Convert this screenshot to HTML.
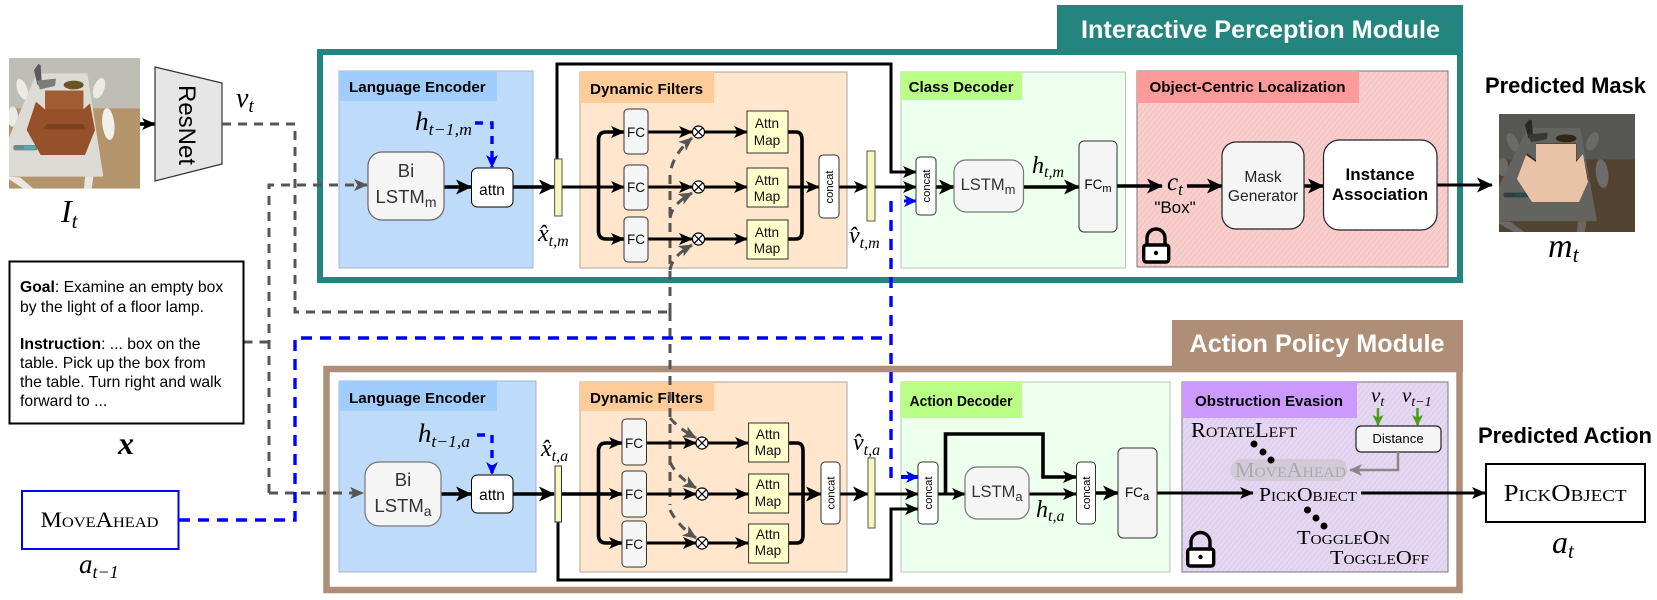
<!DOCTYPE html>
<html><head><meta charset="utf-8">
<style>
html,body{margin:0;padding:0;background:#fff;width:1657px;height:600px;overflow:hidden}
svg{display:block}
text{font-family:"Liberation Sans",sans-serif;fill:#000}
.h{font-weight:bold;font-size:15.2px}
.m{font-family:"Liberation Serif",serif;font-style:italic}
.sc{font-family:"Liberation Serif",serif;font-variant:small-caps;font-size:21px}
.t{font-size:15.7px}
.c{text-anchor:middle}
.lab{font-size:13.6px;text-anchor:middle;fill:#111}
.big{font-size:18.5px;text-anchor:middle;fill:#333}
.bl{fill:none;stroke:#000;stroke-width:3}
.bk{fill:none;stroke:#000;stroke-width:3.6}
.gd{fill:none;stroke:#555;stroke-width:3;stroke-dasharray:9 7}
.bd{fill:none;stroke:#00f;stroke-width:3.4;stroke-dasharray:11 8}
</style></head><body>
<svg xmlns="http://www.w3.org/2000/svg" width="1657" height="600" viewBox="0 0 1657 600">
<defs>
<marker id="a" markerUnits="userSpaceOnUse" markerWidth="15" markerHeight="14" refX="13" refY="6.5" orient="auto"><path d="M0,0.5 L14,6.5 L0,12.5 L3.5,6.5z" fill="#000"/></marker>
<marker id="A" markerUnits="userSpaceOnUse" markerWidth="17" markerHeight="17" refX="15" refY="8" orient="auto"><path d="M0,0.5 L16,8 L0,15.5 L4,8z" fill="#000"/></marker>
<marker id="g" markerUnits="userSpaceOnUse" markerWidth="15" markerHeight="14" refX="13" refY="6.5" orient="auto"><path d="M0,0.5 L14,6.5 L0,12.5 L3.5,6.5z" fill="#555"/></marker>
<marker id="b" markerUnits="userSpaceOnUse" markerWidth="14" markerHeight="14" refX="12" refY="6.5" orient="auto"><path d="M0,0.5 L13,6.5 L0,12.5 L3.5,6.5z" fill="#00f"/></marker>
<marker id="gr" markerUnits="userSpaceOnUse" markerWidth="12" markerHeight="12" refX="10" refY="5.5" orient="auto"><path d="M0,0 L11,5.5 L0,11 L2.5,5.5z" fill="#4d9a1f"/></marker>
<marker id="y" markerUnits="userSpaceOnUse" markerWidth="14" markerHeight="14" refX="12" refY="6.5" orient="auto"><path d="M0,0.5 L13,6.5 L0,12.5 L3.5,6.5z" fill="#888"/></marker>
<pattern id="hr" width="4" height="4" patternUnits="userSpaceOnUse" patternTransform="rotate(-50)"><rect width="4" height="4" fill="#f6c8c6"/><rect width="4" height="1" y="1" fill="#f9d6d4"/></pattern>
<pattern id="hp" width="4" height="4" patternUnits="userSpaceOnUse" patternTransform="rotate(-50)"><rect width="4" height="4" fill="#e0d1ee"/><rect width="4" height="1" y="1" fill="#e9def2"/></pattern>
<clipPath id="sc"><rect x="27" y="24" width="393" height="392"/></clipPath>
<g id="scene" clip-path="url(#sc)">
 <rect x="27" y="24" width="393" height="392" fill="#bfbeb6"/>
 <rect x="27" y="175" width="393" height="241" fill="#b3946b"/>
 <ellipse cx="38" cy="200" rx="16" ry="30" fill="#eceae5"/>
 <ellipse cx="67" cy="118" rx="15" ry="32" fill="#eceae5" transform="rotate(-20 67 118)"/>
 <ellipse cx="297" cy="115" rx="16" ry="32" fill="#eceae5" transform="rotate(20 297 115)"/>
 <path d="M27,380 L60,382 L100,416 L70,416 L27,388z M255,380 L280,380 L275,416 L252,416z" fill="#e8e6de"/>
 <path d="M110,70 L262,70 L310,380 L27,380 L27,262z" fill="#dcdbd6"/>
 <ellipse cx="325" cy="222" rx="18" ry="48" fill="#f1f0ec" transform="rotate(-6 325 222)"/>
 <path d="M102,60 L115,42 L122,45 L125,95 L112,105z" fill="#5a5a5a"/>
 <path d="M110,92 L168,86 L165,108 L120,118z" fill="#7c7c7a"/>
 <ellipse cx="221" cy="105" rx="30" ry="13" fill="#6b5526"/>
 <rect x="40" y="285" width="72" height="16" rx="6" fill="#6e8a8a"/>
 <rect x="72" y="287" width="36" height="11" fill="#58a9b3"/>
 <path d="M80,240 L108,155 L135,178 L135,122 L250,122 L250,178 L270,160 L285,240 L255,315 L122,315z" fill="#96502a"/>
 <rect x="135" y="122" width="115" height="56" fill="#a25c31"/>
 <path d="M140,222 L250,222 L255,238 L130,238z" fill="#7c4220"/>
</g>
</defs>

<!-- photo -->
<g transform="translate(9,58) scale(0.33333) translate(-27,-24)"><use href="#scene"/></g>
<path d="M140,124 L155,124" class="bk" marker-end="url(#a)"/>
<path d="M155,67 L222,83 L222,164 L155,181z" fill="#e6e6e6" stroke="#333" stroke-width="1.2"/>
<text transform="translate(179,125) rotate(90)" class="c" style="font-size:24px">ResNet</text>
<text class="m" x="236" y="107" style="font-size:28px">v<tspan dy="5" style="font-size:19px">t</tspan></text>
<text class="m" x="61" y="222" style="font-size:32px">I<tspan dy="6" style="font-size:21px">t</tspan></text>

<!-- Teal module -->
<rect x="1057" y="5" width="406" height="52" fill="#23857d"/>
<rect x="320" y="52" width="1140" height="228" fill="#fff" stroke="#23857d" stroke-width="6"/>
<text x="1081" y="38" textLength="359" lengthAdjust="spacingAndGlyphs" style="font-size:25.2px;font-weight:bold;fill:#fff">Interactive Perception Module</text>

<!-- Brown module -->
<rect x="1172" y="320" width="291" height="52" fill="#ae8e76"/>
<rect x="326.500" y="369" width="1133" height="221" fill="#fff" stroke="#ae8e76" stroke-width="6.500"/>
<text x="1189.500" y="352" textLength="255" lengthAdjust="spacingAndGlyphs" style="font-size:25.2px;font-weight:bold;fill:#fff">Action Policy Module</text>

<!-- Top: panels -->
<rect x="339" y="71" width="194" height="197" fill="#bedcfa" stroke="#9fb6cc" stroke-width="1"/>
<rect x="339" y="71" width="158" height="30" fill="#a0cdfb"/>
<text class="h" x="349" y="92">Language Encoder</text>
<rect x="580" y="72" width="267" height="196" fill="#ffe6cc" stroke="#b3a697" stroke-width="1"/>
<rect x="580" y="72" width="134" height="31" fill="#ffcc99"/>
<text class="h" x="590" y="94">Dynamic Filters</text>
<rect x="901" y="72" width="224.500" height="196" fill="#edffed" stroke="#b5c5b5" stroke-width="1"/>
<rect x="901" y="72" width="121" height="28" fill="#b9ff85"/>
<text class="h" x="908.600" y="92" textLength="105" lengthAdjust="spacingAndGlyphs">Class Decoder</text>
<rect x="1137" y="71" width="311" height="196" fill="url(#hr)" stroke="#777" stroke-width="1"/>
<rect x="1137" y="71" width="222" height="32" fill="#ff9a9a"/>
<text class="h" x="1149.500" y="92" textLength="196" lengthAdjust="spacingAndGlyphs" style="font-size:15px">Object-Centric Localization</text>

<!-- Bottom: panels -->
<rect x="339" y="381" width="197" height="191" fill="#bedcfa" stroke="#9fb6cc" stroke-width="1"/>
<rect x="339" y="381" width="158" height="30" fill="#a0cdfb"/>
<text class="h" x="349" y="403">Language Encoder</text>
<rect x="580" y="382" width="267" height="190" fill="#ffe6cc" stroke="#b3a697" stroke-width="1"/>
<rect x="580" y="382" width="134" height="29" fill="#ffcc99"/>
<text class="h" x="590" y="403">Dynamic Filters</text>
<rect x="901" y="382" width="269" height="190" fill="#edffed" stroke="#b5c5b5" stroke-width="1"/>
<rect x="901" y="382" width="121" height="36" fill="#b9ff85"/>
<text class="h" x="909.600" y="406" textLength="103" lengthAdjust="spacingAndGlyphs">Action Decoder</text>
<rect x="1182" y="382" width="266" height="190" fill="url(#hp)" stroke="#777" stroke-width="1"/>
<rect x="1182" y="382" width="175" height="36" fill="#cc99ff"/>
<text class="h" x="1195" y="406" textLength="148" lengthAdjust="spacingAndGlyphs" style="font-size:15px">Obstruction Evasion</text>

<!-- Gray dashed -->
<path class="gd" d="M222,124 L295,124 L295,312 L670,312"/>
<path class="gd" d="M243.500,342 L269,342"/>
<path class="gd" d="M269,493 L269,185 L367,185" marker-end="url(#g)"/>
<path class="gd" d="M269,493 L363,493" marker-end="url(#g)"/>
<path class="gd" d="M670,312 L670,175 Q672,155 692,138" marker-end="url(#g)"/>
<path class="gd" d="M670,218 Q672,204 692,193" marker-end="url(#g)"/>
<path class="gd" d="M670,270 Q672,256 692,245" marker-end="url(#g)"/>
<path class="gd" d="M670,312 L670,505"/>
<path class="gd" d="M670,418 Q678,428 696,438" marker-end="url(#g)"/>
<path class="gd" d="M670,462 Q676,476 696,488" marker-end="url(#g)"/>
<path class="gd" d="M670,510 Q678,526 696,538" marker-end="url(#g)"/>

<!-- Blue dashed -->
<path class="bd" d="M179,520 L295,520 L295,338 L891,338"/>
<path class="bd" d="M891,201 L891,478"/>
<path d="M904,201 L916,201" fill="none" stroke="#00f" stroke-width="3" marker-end="url(#b)"/>
<path d="M901,477 L918,477" fill="none" stroke="#00f" stroke-width="4" marker-end="url(#b)"/>
<path class="bd" d="M475,123 L492,123 L492,167" style="stroke-dasharray:8 7" marker-end="url(#b)"/>
<path class="bd" d="M477,435 L492,435 L492,474" style="stroke-dasharray:8 7" marker-end="url(#b)"/>

<!-- Top: black lines -->
<path class="bk" d="M444,187 L471,187" marker-end="url(#A)"/>
<path class="bk" d="M513,187 L554,187" marker-end="url(#A)"/>
<path class="bl" d="M557,159 L557,64 L891,64 L891,172 L916,172" marker-end="url(#a)"/>
<path class="bl" d="M562,187 L624,187" marker-end="url(#a)"/>
<path class="bk" d="M598.500,187 L598.500,140 Q598.500,132 606,132 L624,132" marker-end="url(#a)"/>
<path class="bk" d="M598.500,187 L598.500,231 Q598.500,239 606,239 L624,239" marker-end="url(#a)"/>
<path class="bl" d="M648,132 L692,132" marker-end="url(#a)"/>
<path class="bl" d="M648,187 L692,187" marker-end="url(#a)"/>
<path class="bl" d="M648,239 L692,239" marker-end="url(#a)"/>
<path class="bl" d="M705,132 L747,132" marker-end="url(#a)"/>
<path class="bl" d="M705,187 L747,187" marker-end="url(#a)"/>
<path class="bl" d="M705,239 L747,239" marker-end="url(#a)"/>
<path class="bk" d="M788,132 L796,132 Q802,132 802,140 L802,231 Q802,239 796,239 L788,239"/>
<path class="bl" d="M788,187 L819,187" marker-end="url(#a)"/>
<path class="bl" d="M839,187 L867,187" marker-end="url(#a)"/>
<path class="bl" d="M875,187 L916,187" marker-end="url(#a)"/>
<path class="bk" d="M936,187 L954,187" marker-end="url(#A)"/>
<path class="bk" d="M1024,187 L1079,187" marker-end="url(#A)"/>
<path class="bk" d="M1117,186 L1162,186" marker-end="url(#A)"/>
<path class="bk" d="M1187,186 L1222,186" marker-end="url(#A)"/>
<path class="bk" d="M1304,186 L1323,186" marker-end="url(#A)"/>
<path class="bl" d="M1437,185 L1492,185" marker-end="url(#A)"/>

<!-- Bottom: black lines -->
<path class="bk" d="M441,494 L471,494" marker-end="url(#A)"/>
<path class="bk" d="M513,494 L554,494" marker-end="url(#A)"/>
<path class="bl" d="M558,522 L558,580 L891,580 L891,509 L918,509" marker-end="url(#a)"/>
<path class="bk" d="M561,494 L622,494" marker-end="url(#a)"/>
<path class="bk" d="M598.500,494 L598.500,451 Q598.500,443 606,443 L622,443" marker-end="url(#a)"/>
<path class="bk" d="M598.500,494 L598.500,535 Q598.500,543 606,543 L622,543" marker-end="url(#a)"/>
<path class="bl" d="M646,443 L696,443" marker-end="url(#a)"/>
<path class="bl" d="M646,494 L696,494" marker-end="url(#a)"/>
<path class="bl" d="M646,543 L696,543" marker-end="url(#a)"/>
<path class="bl" d="M708,443 L748,443" marker-end="url(#a)"/>
<path class="bl" d="M708,494 L748,494" marker-end="url(#a)"/>
<path class="bl" d="M708,543 L748,543" marker-end="url(#a)"/>
<path class="bk" d="M788,443 L797,443 Q803,443 803,451 L803,535 Q803,543 797,543 L788,543"/>
<path class="bl" d="M788,494 L821,494" marker-end="url(#A)"/>
<path class="bl" d="M840,494 L868,494" marker-end="url(#A)"/>
<path class="bl" d="M875,494 L918,494" marker-end="url(#a)"/>
<path class="bl" d="M938,494 L965,494" marker-end="url(#a)"/>
<path class="bk" d="M945.500,494 L945.500,434 L1043,434 L1043,477 L1076,477" marker-end="url(#a)"/>
<path class="bl" d="M1029,494 L1076,494" marker-end="url(#a)"/>
<path class="bk" d="M1096,493 L1118,493" marker-end="url(#A)"/>
<path class="bl" d="M1157,493 L1253,493" marker-end="url(#a)"/>
<path class="bl" d="M1361,493 L1485,493" marker-end="url(#a)"/>

<!-- Top: nodes -->
<rect x="368" y="152" width="76" height="68" rx="14" fill="#f5f5f5" stroke="#666" stroke-width="1.2"/>
<text class="big" x="406" y="177">Bi</text>
<text class="big" x="406" y="203">LSTM<tspan dy="4" style="font-size:14px">m</tspan></text>
<rect x="471.500" y="168" width="41.500" height="39" rx="6" fill="#fff" stroke="#000" stroke-width="1"/>
<text class="c" x="492" y="195" style="font-size:15.4px">attn</text>
<text class="m" x="415" y="130" textLength="57" lengthAdjust="spacingAndGlyphs" style="font-size:26px">h<tspan dy="5" style="font-size:17px">t−1,m</tspan></text>
<rect x="554.600" y="159" width="7.400" height="57" fill="#f7f7c0" stroke="#555" stroke-width="1"/>
<text class="m" x="538" y="241" style="font-size:24px">x̂<tspan dy="5" style="font-size:16px">t,m</tspan></text>
<g fill="#f5f5f5" stroke="#333" stroke-width="1">
<rect x="624" y="109" width="24" height="45" rx="4"/><rect x="624" y="165" width="24" height="45" rx="4"/><rect x="624" y="217" width="24" height="45" rx="4"/>
</g>
<text class="lab" x="636" y="137">FC</text><text class="lab" x="636" y="192">FC</text><text class="lab" x="636" y="244">FC</text>
<g fill="#fff" stroke="#000" stroke-width="1.2">
<circle cx="698.500" cy="132" r="6"/><path d="M694.300,127.800l8.400,8.400m0,-8.400l-8.400,8.400"/>
<circle cx="698.500" cy="187" r="6"/><path d="M694.300,182.800l8.400,8.400m0,-8.400l-8.400,8.400"/>
<circle cx="698.500" cy="239" r="6"/><path d="M694.300,234.800l8.400,8.400m0,-8.400l-8.400,8.400"/>
</g>
<g fill="#ffffcc" stroke="#333" stroke-width="1">
<rect x="747" y="111" width="41" height="42"/><rect x="747" y="168" width="41" height="39"/><rect x="747" y="220" width="41" height="39"/>
</g>
<text class="lab" x="767" y="128">Attn</text><text class="lab" x="767" y="145">Map</text>
<text class="lab" x="767" y="185">Attn</text><text class="lab" x="767" y="201">Map</text>
<text class="lab" x="767" y="237">Attn</text><text class="lab" x="767" y="253">Map</text>
<rect x="819" y="155" width="20" height="63" rx="4" fill="#fff" stroke="#333" stroke-width="1"/>
<text class="c" transform="translate(833,187) rotate(-90)" style="font-size:11.2px">concat</text>
<rect x="867" y="151" width="8" height="70" fill="#f7f7c0" stroke="#555" stroke-width="1"/>
<text class="m" x="849" y="243" style="font-size:24px">v̂<tspan dy="5" style="font-size:16px">t,m</tspan></text>
<rect x="916" y="157" width="20" height="58" rx="4" fill="#fff" stroke="#333" stroke-width="1"/>
<text class="c" transform="translate(930,186) rotate(-90)" style="font-size:11.2px">concat</text>
<rect x="954" y="160" width="69.500" height="52" rx="12" fill="#f5f5f5" stroke="#777" stroke-width="1.2"/>
<text class="c" x="988" y="190" style="font-size:16.5px;fill:#333">LSTM<tspan dy="4" style="font-size:13px">m</tspan></text>
<text class="m" x="1032" y="173" style="font-size:24px">h<tspan dy="4" style="font-size:16px">t,m</tspan></text>
<rect x="1079" y="141" width="38" height="91" rx="5" fill="#f5f5f5" stroke="#333" stroke-width="1"/>
<text class="c" x="1098" y="189" style="font-size:13.5px">FC<tspan dy="3" style="font-size:11px">m</tspan></text>
<text class="m" x="1167" y="190" style="font-size:25px">c<tspan dy="5" style="font-size:17px">t</tspan></text>
<text class="c" x="1175" y="213" style="font-size:17px">"Box"</text>
<rect x="1222" y="142" width="82" height="87" rx="14" fill="#f5f5f5" stroke="#222" stroke-width="1.2"/>
<text class="c" x="1263" y="182" style="font-size:15.6px;fill:#222">Mask</text>
<text class="c" x="1263" y="201" style="font-size:15.6px;fill:#222">Generator</text>
<rect x="1323.500" y="140" width="113.500" height="90" rx="16" fill="#fff" stroke="#222" stroke-width="1.2"/>
<text class="c" x="1380" y="180" style="font-size:17px;font-weight:bold">Instance</text>
<text class="c" x="1380" y="200" style="font-size:17px;font-weight:bold">Association</text>
<g fill="none" stroke="#000" stroke-width="3.4">
<path d="M1147,245 L1147,238 A9,9 0 0 1 1165,238 L1165,245"/>
<rect x="1143.700" y="245" width="25" height="17" rx="2.500" fill="#fff"/>
</g>
<circle cx="1156" cy="253" r="2.200" fill="#000"/>

<!-- Right outputs -->
<text x="1485" y="93" textLength="161" lengthAdjust="spacingAndGlyphs" style="font-size:22px;font-weight:bold">Predicted Mask</text>
<g transform="translate(1499,114)">
<g transform="scale(0.34606,0.30102) translate(-27,-24)"><use href="#scene"/></g>
<rect width="136" height="118" fill="#000" fill-opacity="0.55"/>
<path d="M37,30 L77,30 L77,48 L84,40 L89,68 L80,88 L33,88 L18,65 L27,41 L37,48z" fill="#e9c3a8"/>
</g>
<text class="m" x="1548" y="257" style="font-size:34px">m<tspan dy="5" style="font-size:22px">t</tspan></text>

<text x="1478" y="443" textLength="174" lengthAdjust="spacingAndGlyphs" style="font-size:22px;font-weight:bold">Predicted Action</text>
<rect x="1486" y="464" width="159" height="58" fill="#fff" stroke="#000" stroke-width="2"/>
<text class="sc" x="1503.600" y="501" textLength="123" lengthAdjust="spacingAndGlyphs" style="font-size:24px">PickObject</text>
<text class="m" x="1552" y="553" style="font-size:32px">a<tspan dy="5" style="font-size:21px">t</tspan></text>

<!-- Left text box -->
<rect x="9.500" y="261.500" width="234" height="162" fill="#fff" stroke="#000" stroke-width="2"/>
<text class="t" x="20" y="292"><tspan style="font-weight:bold">Goal</tspan>: Examine an empty box</text>
<text class="t" x="20" y="312">by the light of a floor lamp.</text>
<text class="t" x="20" y="349"><tspan style="font-weight:bold">Instruction</tspan>: ... box on the</text>
<text class="t" x="20" y="368">table. Pick up the box from</text>
<text class="t" x="20" y="387">the table. Turn right and walk</text>
<text class="t" x="20" y="406">forward to ...</text>
<text class="m c" x="126" y="454" style="font-size:32px;font-weight:bold">x</text>
<rect x="22" y="491" width="156.500" height="58" fill="#fff" stroke="#00f" stroke-width="2"/>
<text class="sc" x="40.500" y="527" textLength="118" lengthAdjust="spacingAndGlyphs" style="font-size:22px">MoveAhead</text>
<text class="m" x="79" y="573" style="font-size:27px">a<tspan dy="5" style="font-size:18px">t−1</tspan></text>

<!-- Bottom: nodes -->
<text class="m" x="418" y="442" textLength="52" lengthAdjust="spacingAndGlyphs" style="font-size:26px">h<tspan dy="5" style="font-size:17px">t−1,a</tspan></text>
<rect x="365" y="462" width="76" height="64" rx="14" fill="#f5f5f5" stroke="#777" stroke-width="1.2"/>
<text class="big" x="403" y="486">Bi</text>
<text class="big" x="403" y="512">LSTM<tspan dy="4" style="font-size:14px">a</tspan></text>
<rect x="471.500" y="475" width="41.500" height="38" rx="6" fill="#fff" stroke="#000" stroke-width="1"/>
<text class="c" x="492" y="500" style="font-size:15.4px">attn</text>
<rect x="555" y="466" width="6.500" height="56" fill="#f7f7c0" stroke="#333" stroke-width="1"/>
<text class="m" x="541" y="456" style="font-size:24px">x̂<tspan dy="5" style="font-size:16px">t,a</tspan></text>
<g fill="#f5f5f5" stroke="#333" stroke-width="1">
<rect x="622" y="419" width="24.500" height="46" rx="4"/><rect x="622" y="471" width="24.500" height="46" rx="4"/><rect x="622" y="521" width="24.500" height="46" rx="4"/>
</g>
<text class="lab" x="634" y="448">FC</text><text class="lab" x="634" y="499">FC</text><text class="lab" x="634" y="549">FC</text>
<g fill="#fff" stroke="#000" stroke-width="1.2">
<circle cx="702" cy="443" r="6"/><path d="M697.800,438.800l8.400,8.400m0,-8.400l-8.400,8.400"/>
<circle cx="702" cy="494" r="6"/><path d="M697.800,489.800l8.400,8.400m0,-8.400l-8.400,8.400"/>
<circle cx="702" cy="543" r="6"/><path d="M697.800,538.800l8.400,8.400m0,-8.400l-8.400,8.400"/>
</g>
<g fill="#ffffcc" stroke="#333" stroke-width="1">
<rect x="748.600" y="423" width="40" height="39"/><rect x="748.600" y="474" width="40" height="39"/><rect x="748.600" y="524" width="40" height="39"/>
</g>
<text class="lab" x="768" y="439">Attn</text><text class="lab" x="768" y="455">Map</text>
<text class="lab" x="768" y="489">Attn</text><text class="lab" x="768" y="506">Map</text>
<text class="lab" x="768" y="539">Attn</text><text class="lab" x="768" y="555">Map</text>
<rect x="821" y="462" width="19" height="62" rx="4" fill="#fff" stroke="#333" stroke-width="1"/>
<text class="c" transform="translate(834.500,493) rotate(-90)" style="font-size:11.2px">concat</text>
<rect x="868" y="458" width="7" height="70" fill="#f7f7c0" stroke="#555" stroke-width="1"/>
<text class="m" x="853" y="450" style="font-size:24px">v̂<tspan dy="5" style="font-size:16px">t,a</tspan></text>
<rect x="918" y="462" width="20" height="62" rx="4" fill="#fff" stroke="#333" stroke-width="1"/>
<text class="c" transform="translate(932,493) rotate(-90)" style="font-size:11.2px">concat</text>
<rect x="965" y="467" width="64" height="52" rx="12" fill="#f5f5f5" stroke="#777" stroke-width="1.2"/>
<text class="c" x="997" y="497" style="font-size:16.5px;fill:#333">LSTM<tspan dy="4" style="font-size:13px">a</tspan></text>
<text class="m" x="1036" y="517" style="font-size:24px">h<tspan dy="4" style="font-size:16px">t,a</tspan></text>
<rect x="1076.500" y="462" width="19" height="62" rx="4" fill="#fff" stroke="#333" stroke-width="1"/>
<text class="c" transform="translate(1090,493) rotate(-90)" style="font-size:11.2px">concat</text>
<rect x="1118" y="448" width="39" height="90" rx="5" fill="#f5f5f5" stroke="#333" stroke-width="1"/>
<text class="c" x="1137" y="497" style="font-size:13.5px">FC<tspan dy="3" style="font-size:11px">a</tspan></text>

<!-- Obstruction contents -->
<text class="sc" x="1191" y="437" textLength="106" lengthAdjust="spacingAndGlyphs" style="font-size:21px">RotateLeft</text>
<rect x="1231" y="459" width="116" height="22" rx="10" fill="#d2cad8"/>
<g fill="#000"><circle cx="1254" cy="444" r="3.500"/><circle cx="1263" cy="452" r="3.500"/><circle cx="1271" cy="460" r="3.500"/><circle cx="1307.500" cy="510" r="3.500"/><circle cx="1316" cy="518" r="3.500"/><circle cx="1324" cy="526" r="3.500"/></g>
<text class="sc" x="1235" y="477" textLength="111" lengthAdjust="spacingAndGlyphs" style="font-size:21px;fill:#aaa">MoveAhead</text>
<text class="sc" x="1259" y="501" textLength="98" lengthAdjust="spacingAndGlyphs" style="font-size:20px">PickObject</text>
<text class="sc" x="1297" y="544" textLength="93" lengthAdjust="spacingAndGlyphs" style="font-size:20px">ToggleOn</text>
<text class="sc" x="1330" y="564" textLength="99" lengthAdjust="spacingAndGlyphs" style="font-size:20px">ToggleOff</text>
<path d="M1378,408 L1378,425" fill="none" stroke="#4d9a1f" stroke-width="2.500" marker-end="url(#gr)"/>
<path d="M1417.500,408 L1417.500,425" fill="none" stroke="#4d9a1f" stroke-width="2.500" marker-end="url(#gr)"/>
<rect x="1356" y="426" width="85" height="26" rx="5" fill="#f5f5f5" stroke="#222" stroke-width="1.2"/>
<text class="c" x="1398" y="443" style="font-size:13.2px">Distance</text>
<path d="M1398,452 L1398,470 L1350,470" fill="none" stroke="#888" stroke-width="2.500" marker-end="url(#y)"/>
<text class="m" x="1371" y="402" style="font-size:21px">v<tspan dy="4" style="font-size:14px">t</tspan></text>
<text class="m" x="1402" y="402" style="font-size:21px">v<tspan dy="4" style="font-size:14px">t−1</tspan></text>
<g fill="none" stroke="#000" stroke-width="3.400">
<path d="M1191,549 L1191,542 A9.500,9.500 0 0 1 1210,542 L1210,549"/>
<rect x="1187.700" y="549" width="26" height="17" rx="2.500" fill="#fff"/>
</g>
<circle cx="1200.500" cy="557" r="2.200" fill="#000"/>
</svg>
</body></html>
